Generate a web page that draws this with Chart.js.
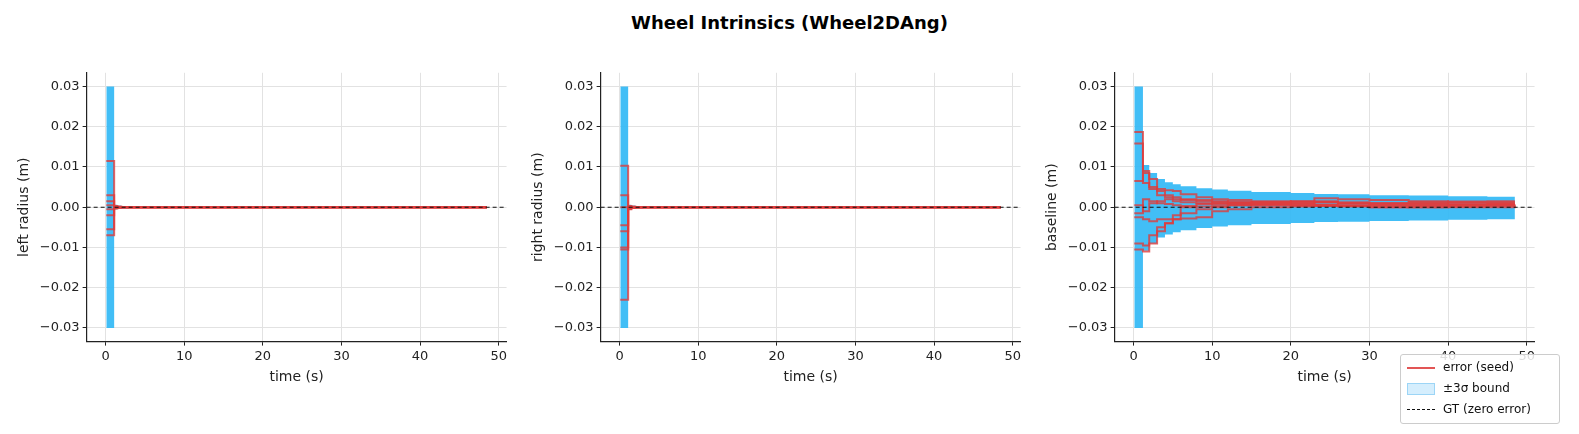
<!DOCTYPE html>
<html>
<head>
<meta charset="utf-8">
<script src="https://cdn.jsdelivr.net/npm/chart.js@4.4.1/dist/chart.umd.min.js"></script>
<style>
  body { margin: 0; background: #fff; font-family: "DejaVu Sans", sans-serif; }
  #fig { position: relative; width: 1579px; height: 434px; }
  #title { position: absolute; top: 12px; left: 0; width: 1579px; text-align: center; font-weight: bold; font-size: 18px; color: #000; }
  .panel { position: absolute; top: 62px; width: 502px; height: 328px; }
  #legend { position: absolute; left: 1400px; top: 354px; width: 158px; height: 68px; border: 1px solid #ccc; border-radius: 3px; background: rgba(255,255,255,0.85); font-size: 12px; color: #111; }
  .row { position: absolute; left: 6px; height: 18px; line-height: 18px; white-space: nowrap; }
  .row span { display: inline-block; width: 28px; height: 10px; vertical-align: middle; margin-right: 8px; }
</style>
</head>
<body>
<div id="fig">
  <div id="title">Wheel Intrinsics (Wheel2DAng)</div>
  <div class="panel" style="left:8px"><canvas id="c0"></canvas></div>
  <div class="panel" style="left:522px"><canvas id="c1"></canvas></div>
  <div class="panel" style="left:1036px"><canvas id="c2"></canvas></div>
  <div id="legend">
    <div class="row" style="top:3px"><span style="height:0;border-top:2px solid #e25555"></span>error (seed)</div>
    <div class="row" style="top:24px"><span style="background:rgba(135,206,250,0.35);border:1px solid rgba(100,190,240,0.5);width:26px"></span>±3σ bound</div>
    <div class="row" style="top:45px"><span style="height:0;border-top:1.5px dashed #111"></span>GT (zero error)</div>
  </div>
</div>
<script>
const yLabels = ['left radius (m)', 'right radius (m)', 'baseline (m)'];
const xTicks = [0, 10, 20, 30, 40, 50];
const yTicks = [-0.03, -0.02, -0.01, 0, 0.01, 0.02, 0.03];

// radius panels
const tA = [0.1, 1.1, 1.5, 2, 3, 5, 10, 20, 30, 40, 48.5];
const bandUpA = [0.03, 0.0006, 0.0004, 0.0003, 0.0002, 0.0002, 0.0001, 0.0001, 0.0001, 0.0001, 0.0001];
const bandLoA = [-0.03, -0.0006, -0.0004, -0.0003, -0.0002, -0.0002, -0.0001, -0.0001, -0.0001, -0.0001, -0.0001];
const leftSeeds = [
  [0.0115, 0.0003, 0.0001, 0, 0, 0, 0, 0, 0, 0, 0],
  [0.003, 0.0002, 0.0001, 0, 0, 0, 0, 0, 0, 0, 0],
  [0.0015, 0.0001, 0, 0, 0, 0, 0, 0, 0, 0, 0],
  [0.0005, 0, 0, 0, 0, 0, 0, 0, 0, 0, 0],
  [-0.0005, -0.0001, 0, 0, 0, 0, 0, 0, 0, 0, 0],
  [-0.002, -0.0002, -0.0001, 0, 0, 0, 0, 0, 0, 0, 0],
  [-0.0055, -0.0002, -0.0001, 0, 0, 0, 0, 0, 0, 0, 0],
  [-0.007, -0.0003, -0.0001, 0, 0, 0, 0, 0, 0, 0, 0]
];
const rightSeeds = [
  [0.0103, 0.0003, 0.0001, 0, 0, 0, 0, 0, 0, 0, 0],
  [0.003, 0.0002, 0.0001, 0, 0, 0, 0, 0, 0, 0, 0],
  [0.0, 0.0001, 0, 0, 0, 0, 0, 0, 0, 0, 0],
  [-0.0045, -0.0001, 0, 0, 0, 0, 0, 0, 0, 0, 0],
  [-0.006, -0.0002, -0.0001, 0, 0, 0, 0, 0, 0, 0, 0],
  [-0.01, -0.0003, -0.0001, 0, 0, 0, 0, 0, 0, 0, 0],
  [-0.0105, -0.0003, -0.0001, 0, 0, 0, 0, 0, 0, 0, 0],
  [-0.023, -0.0005, -0.0002, -0.0001, 0, 0, 0, 0, 0, 0, 0]
];

// baseline panel
const tB = [0.1, 1.2, 2, 3, 4, 5, 6, 8, 10, 12, 15, 20, 23, 26, 30, 35, 40, 45, 48.5];
const bandUpB = [0.03, 0.0105, 0.0085, 0.007, 0.0062, 0.0057, 0.0052, 0.0047, 0.0044, 0.0041, 0.0038, 0.0035, 0.0033, 0.0032, 0.003, 0.0029, 0.0027, 0.0026, 0.0026];
const bandLoB = [-0.03, -0.0108, -0.009, -0.0075, -0.0068, -0.0062, -0.0057, -0.0052, -0.0048, -0.0045, -0.0042, -0.0039, -0.0037, -0.0036, -0.0034, -0.0033, -0.0031, -0.003, -0.003];
const baseSeeds = [
  [0.0187, 0.009, 0.007, 0.004, 0.003, 0.0025, 0.002, 0.0018, 0.0015, 0.0012, 0.001, 0.001, 0.0012, 0.001, 0.0008, 0.0008, 0.0006, 0.0008, 0.0008],
  [0.0158, 0.006, 0.0045, 0.0045, 0.0042, 0.004, 0.0032, 0.0025, 0.002, 0.0018, 0.0015, 0.0012, 0.0022, 0.002, 0.0018, 0.0015, 0.0012, 0.0012, 0.0012],
  [0.0065, 0.0085, 0.005, 0.003, 0.0025, 0.002, 0.0018, 0.0015, 0.0012, 0.001, 0.0012, 0.0014, 0.0013, 0.001, 0.001, 0.0012, 0.0014, 0.0015, 0.0015],
  [0.0005, -0.001, 0.001, 0.0015, 0.002, 0.0015, 0.0012, 0.001, 0.0008, 0.0008, 0.0006, 0.0005, 0.0006, 0.0004, 0.0005, 0.0005, 0.0006, 0.0006, 0.0006],
  [-0.0015, 0.002, 0.0015, 0.001, 0.0008, 0.0005, 0.0003, 0.0002, 0.0003, 0.0005, 0.0005, 0.0004, 0.0003, 0.0003, 0.0, 0.0001, 0.0002, 0.0003, 0.0004],
  [-0.0025, -0.003, -0.0035, -0.003, -0.003, -0.003, -0.0028, -0.0025, -0.001, -0.0005, 0.0, 0.0002, 0.0003, 0.0002, 0.0, -0.0001, 0.0, 0.0, 0.0002],
  [-0.009, -0.0095, -0.007, -0.005, -0.004, -0.003, -0.0015, -0.0005, 0.0, 0.0005, 0.0008, 0.0008, 0.0006, 0.0005, 0.0004, 0.0004, 0.0005, 0.0006, 0.0007],
  [-0.0105, -0.011, -0.009, -0.006, -0.004, -0.002, 0.0, 0.0008, 0.001, 0.0012, 0.0012, 0.0015, 0.0015, 0.0012, 0.001, 0.001, 0.001, 0.001, 0.001]
];

const X_MIN = -2.4, X_MAX = 51;
const pts = (t, v) => t.map((x, i) => ({ x, y: v[i] }));
const fmtY = v => (v < 0 ? '\u2212' : '') + Math.abs(v).toFixed(2);

function makeChart(id, label, t, up, lo, seeds) {
  const datasets = [
    { data: pts(t, up), stepped: true, borderWidth: 0, borderColor: 'rgba(0,0,0,0)', backgroundColor: 'rgba(50,185,245,0.92)', fill: '+1', order: 3 },
    { data: pts(t, lo), stepped: true, borderWidth: 0, borderColor: 'rgba(0,0,0,0)', fill: false, order: 3 }
  ];
  for (const s of seeds) {
    datasets.push({ data: pts(t, s), stepped: true, borderColor: 'rgba(222,60,60,0.8)', borderWidth: 2, fill: false, order: 2 });
  }
  datasets.push({ data: [{ x: X_MIN, y: 0 }, { x: X_MAX, y: 0 }], borderColor: '#111', borderWidth: 1.1, borderDash: [4, 3], fill: false, order: 1 });

  new Chart(document.getElementById(id), {
    type: 'line',
    data: { datasets },
    options: {
      responsive: true, maintainAspectRatio: false, animation: false, parsing: false,
      elements: { point: { radius: 0 } },
      layout: { padding: { left: 4, right: 2, top: 9, bottom: 0 } },
      plugins: { legend: { display: false }, tooltip: { enabled: false } },
      scales: {
        x: {
          type: 'linear', min: X_MIN, max: X_MAX,
          afterBuildTicks: s => { s.ticks = xTicks.map(v => ({ value: v })); },
          grid: { color: '#e2e2e2', tickColor: '#222', tickLength: 4 },
          border: { color: '#222', width: 1.2 },
          ticks: { color: '#222', font: { size: 13, family: 'DejaVu Sans' }, padding: 3 },
          title: { display: true, text: 'time (s)', color: '#222', font: { size: 14, family: 'DejaVu Sans' }, padding: { top: 2 } }
        },
        y: {
          min: -0.0334, max: 0.0334,
          afterBuildTicks: s => { s.ticks = yTicks.map(v => ({ value: v })); },
          grid: { color: '#e2e2e2', tickColor: '#222', tickLength: 4 },
          border: { color: '#222', width: 1.2 },
          ticks: { color: '#222', font: { size: 13, family: 'DejaVu Sans' }, padding: 3, callback: v => fmtY(v) },
          title: { display: true, text: label, color: '#222', font: { size: 14, family: 'DejaVu Sans' } }
        }
      }
    }
  });
}

makeChart('c0', yLabels[0], tA, bandUpA, bandLoA, leftSeeds);
makeChart('c1', yLabels[1], tA, bandUpA, bandLoA, rightSeeds);
makeChart('c2', yLabels[2], tB, bandUpB, bandLoB, baseSeeds);
</script>
</body>
</html>
